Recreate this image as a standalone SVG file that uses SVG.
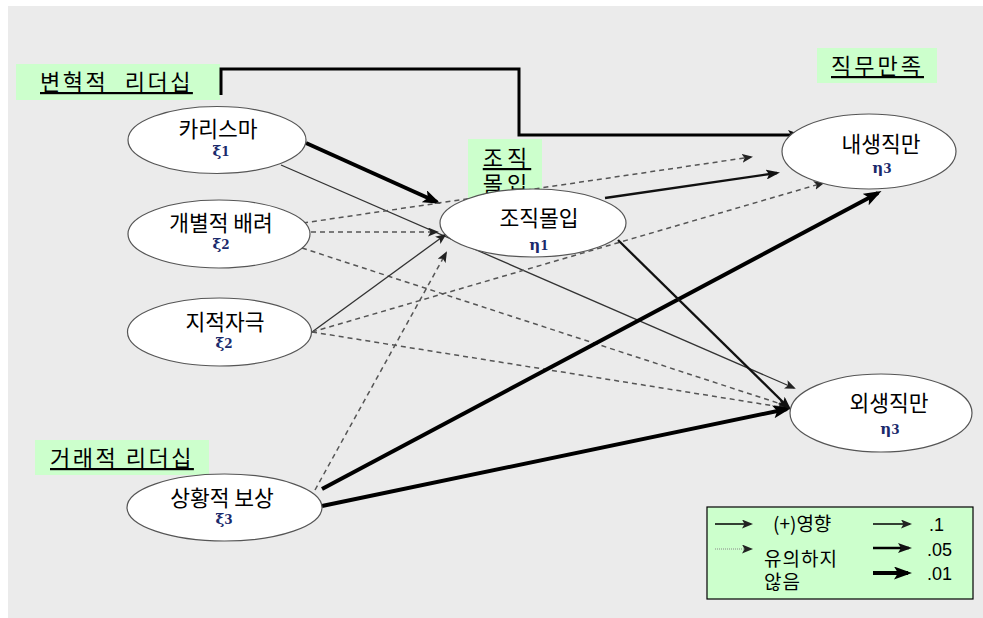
<svg xmlns="http://www.w3.org/2000/svg" width="983" height="618" viewBox="0 0 983 618">
<defs>
<style>
.kr{font-family:"Noto Sans CJK KR","Noto Sans",sans-serif;fill:#000}
.lbl{font-size:22px;text-decoration:underline}
.nt{font-size:21.5px;text-anchor:middle}
.sym{font-family:"DejaVu Serif","Liberation Serif",serif;font-size:15px;font-weight:bold;fill:#1a2a6c}
.box{fill:#ccffcc}
.node{fill:#fff;stroke:#555;stroke-width:1.2}
.thin{stroke:#333;stroke-width:1.3;fill:none}
.med{stroke:#111;stroke-width:2.3;fill:none}
.thick{stroke:#000;stroke-width:4;fill:none}
.dash{stroke:#555;stroke-width:1.5;stroke-dasharray:5 4;fill:none}
.num{font-family:"Liberation Sans",Arial,sans-serif;font-size:18px;fill:#000}
</style>
<marker id="aS" markerUnits="userSpaceOnUse" markerWidth="11" markerHeight="9" refX="9" refY="4.5" orient="auto" viewBox="0 0 11 9"><path d="M0,0 L11,4.5 L0,9 L2.5,4.5 z" fill="#222"/></marker>
<marker id="aM" markerUnits="userSpaceOnUse" markerWidth="14" markerHeight="10" refX="11" refY="5" orient="auto" viewBox="0 0 14 10"><path d="M0,0 L14,5 L0,10 L3,5 z" fill="#111"/></marker>
<marker id="aL" markerUnits="userSpaceOnUse" markerWidth="18" markerHeight="13" refX="14" refY="6.5" orient="auto" viewBox="0 0 18 13"><path d="M0,0 L18,6.5 L0,13 L4,6.5 z" fill="#000"/></marker>
</defs>
<rect x="8" y="6" width="975" height="612" fill="#ebebeb"/>

<g id="label-transformational">
<rect class="box" x="16" y="64" width="204" height="36"/>
<text class="kr lbl" x="40" y="90" letter-spacing="2.5" word-spacing="9">변혁적 리더십</text>
</g>
<g id="label-commitment">
<rect class="box" x="468" y="139" width="74" height="61"/>
<text class="kr lbl" text-anchor="middle" letter-spacing="4" font-size="20"><tspan x="507" y="166">조직</tspan><tspan x="507" y="192">몰입</tspan></text>
</g>
<g id="label-satisfaction">
<rect class="box" x="817" y="48" width="120" height="35"/>
<text class="kr lbl" x="831" y="74" letter-spacing="3">직무만족</text>
</g>
<g id="label-transactional">
<rect class="box" x="35" y="440" width="174" height="35"/>
<text class="kr lbl" x="50" y="466" letter-spacing="2.5">거래적 리더십</text>
</g>

<g id="connectors">
<path class="thick" d="M221,95 V69 H519 V135 H799" style="stroke-width:3" marker-end="url(#aM)"/>
<line class="thick" x1="306" y1="143" x2="437" y2="202" marker-end="url(#aL)"/>
<line class="thin" x1="281" y1="165" x2="794" y2="388" marker-end="url(#aS)"/>
<line class="dash" x1="303" y1="223" x2="751" y2="157" marker-end="url(#aS)"/>
<line class="dash" x1="311" y1="232" x2="437" y2="232" marker-end="url(#aS)"/>
<line class="dash" x1="302" y1="248" x2="787" y2="406" marker-end="url(#aS)"/>
<line class="thin" x1="312" y1="332" x2="445" y2="235" marker-end="url(#aS)"/>
<line class="dash" x1="312" y1="332" x2="823" y2="183" marker-end="url(#aS)"/>
<line class="dash" x1="312" y1="332" x2="787" y2="408" marker-end="url(#aS)"/>
<line class="dash" x1="315" y1="490" x2="446" y2="253" marker-end="url(#aS)"/>
<line class="thick" x1="322" y1="489" x2="878" y2="193" marker-end="url(#aL)"/>
<line class="thick" x1="322" y1="506" x2="787" y2="409" marker-end="url(#aL)"/>
<line class="med" x1="605" y1="198" x2="777" y2="173" marker-end="url(#aM)"/>
<line class="med" x1="618" y1="240" x2="789" y2="408" marker-end="url(#aM)"/>
</g>

<g id="charisma">
<ellipse class="node" cx="217" cy="140" rx="89" ry="33.5"/>
<text class="kr nt"><tspan x="218" y="137">카리스마</tspan><tspan class="sym" x="221" y="156">ξ<tspan font-size="12">1</tspan></tspan></text>
</g>
<g id="individual">
<ellipse class="node" cx="219" cy="234" rx="91" ry="34"/>
<text class="kr nt"><tspan x="221" y="231">개별적 배려</tspan><tspan class="sym" x="221" y="249">ξ<tspan font-size="12">2</tspan></tspan></text>
</g>
<g id="intellectual">
<ellipse class="node" cx="219.5" cy="332" rx="92" ry="34"/>
<text class="kr nt"><tspan x="225" y="330">지적자극</tspan><tspan class="sym" x="224" y="348">ξ<tspan font-size="12">2</tspan></tspan></text>
</g>
<g id="contingent">
<ellipse class="node" cx="224.5" cy="507.5" rx="97.5" ry="33.5"/>
<text class="kr nt"><tspan x="222" y="506">상황적 보상</tspan><tspan class="sym" x="224" y="524">ξ<tspan font-size="12">3</tspan></tspan></text>
</g>
<g id="commitment">
<ellipse class="node" cx="533" cy="223" rx="93" ry="34"/>
<text class="kr nt"><tspan x="539" y="226">조직몰입</tspan><tspan class="sym" x="539" y="250">η<tspan font-size="12">1</tspan></tspan></text>
</g>
<g id="intrinsic">
<ellipse class="node" cx="869" cy="151.5" rx="87" ry="37.5"/>
<text class="kr nt"><tspan x="881" y="152">내생직만</tspan><tspan class="sym" x="882" y="173">η<tspan font-size="12">3</tspan></tspan></text>
</g>
<g id="extrinsic">
<ellipse class="node" cx="881" cy="413" rx="91" ry="39"/>
<text class="kr nt"><tspan x="889" y="411">외생직만</tspan><tspan class="sym" x="890" y="434">η<tspan font-size="12">3</tspan></tspan></text>
</g>

<g id="legend">
<rect x="707" y="507" width="266" height="92" fill="#ccffcc" stroke="#000" stroke-width="1.2"/>
<line x1="715" y1="524" x2="751" y2="524" stroke="#000" stroke-width="1.3" marker-end="url(#aS)"/>
<text class="kr" x="773" y="531" font-size="19">(+)영향</text>
<line x1="715" y1="549" x2="751" y2="549" stroke="#888" stroke-width="1" stroke-dasharray="1 1" marker-end="url(#aS)"/>
<text class="kr" font-size="19" letter-spacing="1"><tspan x="764" y="566">유의하지</tspan><tspan x="764" y="589">않음</tspan></text>
<line x1="873" y1="524" x2="910" y2="524" stroke="#000" stroke-width="1.3" marker-end="url(#aS)"/>
<line x1="873" y1="548" x2="909" y2="548" stroke="#000" stroke-width="2.5" marker-end="url(#aM)"/>
<line x1="873" y1="573" x2="908" y2="573" stroke="#000" stroke-width="4" marker-end="url(#aL)"/>
<text class="num" x="929" y="531">.1</text>
<text class="num" x="927" y="556">.05</text>
<text class="num" x="927" y="580">.01</text>
</g>
</svg>
